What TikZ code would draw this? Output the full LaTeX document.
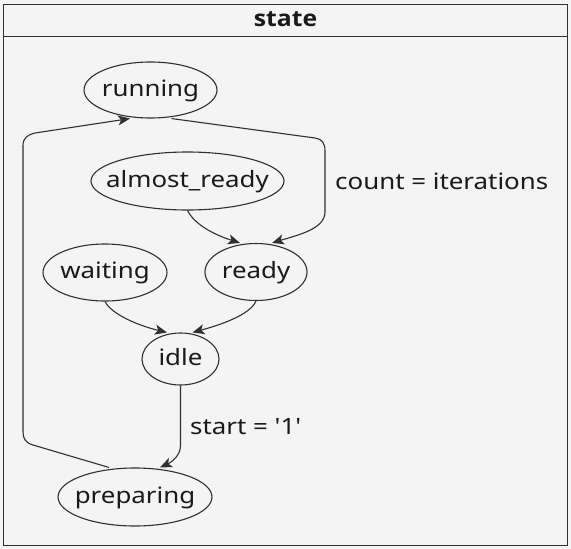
\documentclass[tikz,border=0pt]{standalone}
\usepackage{fontspec}
\newfontfamily\lblfont{Noto Sans}[FakeStretch=1.15]
\newfontfamily\titlefont{Open Sans}[FakeStretch=1.1]
\usetikzlibrary{arrows.meta,shapes.geometric}
\definecolor{bg}{HTML}{F4F4F4}
\definecolor{ln}{HTML}{303030}
\definecolor{tx}{HTML}{1A1A1A}
\begin{document}
\begin{tikzpicture}[x=1pt,y=-1pt,
  st/.style={ellipse, draw=ln, line width=1.1pt, inner sep=0pt},
  lbl/.style={text=tx, font=\lblfont\fontsize{22.5}{27}\selectfont, inner sep=0pt, text height=16pt, text depth=4pt},
  conn/.style={draw=ln, line width=1.1pt, -{Stealth[length=12pt,width=10pt,inset=3pt]}}
]
\fill[bg] (0,0) rectangle (571,549);
\useasboundingbox (0,0) rectangle (571,549);
\draw[ln, line width=1.2pt] (3.5,4.5) rectangle (567.5,545.5);
\draw[ln, line width=1.2pt] (3.5,36.5) -- (567.5,36.5);
\node[lbl, font=\titlefont\bfseries\fontsize{22.5}{27}\selectfont] (title) at (285.5,20.5) {state};

\node[st, minimum width=133pt, minimum height=56pt] (running) at (150.5,90) {};
\node[lbl] (runningT) at (running.center) {running};
\node[st, minimum width=193pt, minimum height=58pt] (almost_ready) at (187.5,181) {};
\node[lbl] (almostT) at (almost_ready.center) {almost\_ready};
\node[st, minimum width=124pt, minimum height=57pt] (waiting) at (105,272.5) {};
\node[lbl] (waitingT) at (waiting.center) {waiting};
\node[st, minimum width=102pt, minimum height=57pt] (ready) at (256,272) {};
\node[lbl] (readyT) at (ready.center) {ready};
\node[st, minimum width=77pt, minimum height=52pt] (idle) at (180.5,359) {};
\node[lbl] (idleT) at (idle.center) {idle};
\node[st, minimum width=154pt, minimum height=58pt] (preparing) at (135,497) {};
\node[lbl] (preparingT) at (preparing.center) {preparing};

\draw[conn] ([xshift=21pt]running.south) -- (315,138) .. controls (322,139) and (325,143) .. (325,151) -- (325,212) .. controls (325,229) and (298,235) .. ([xshift=16pt]ready.north);
\node[lbl, anchor=west] (countL) at (335,183) {count = iterations};

\draw[conn] (almost_ready.south) .. controls (195,225) and (215,235) .. ([xshift=-16pt]ready.north);
\draw[conn] (waiting.south) .. controls (112,315) and (140,326) .. ([xshift=-13.5pt]idle.north);
\draw[conn] (ready.south) .. controls (250,315) and (220,325) .. ([xshift=12pt]idle.north);

\draw[conn] (idle.south) -- (180.5,446) .. controls (180.5,455) and (172,462) .. ([xshift=25pt]preparing.north);
\node[lbl, anchor=west] (startL) at (190,428) {start = '1'};

\draw[conn] ([xshift=-26pt]preparing.north) -- (33,445) .. controls (26,443) and (23,439) .. (23,432) -- (23,146) .. controls (23,138) and (27,135) .. (35,133) -- ([xshift=-20.5pt]running.south);
\end{tikzpicture}
\end{document}
